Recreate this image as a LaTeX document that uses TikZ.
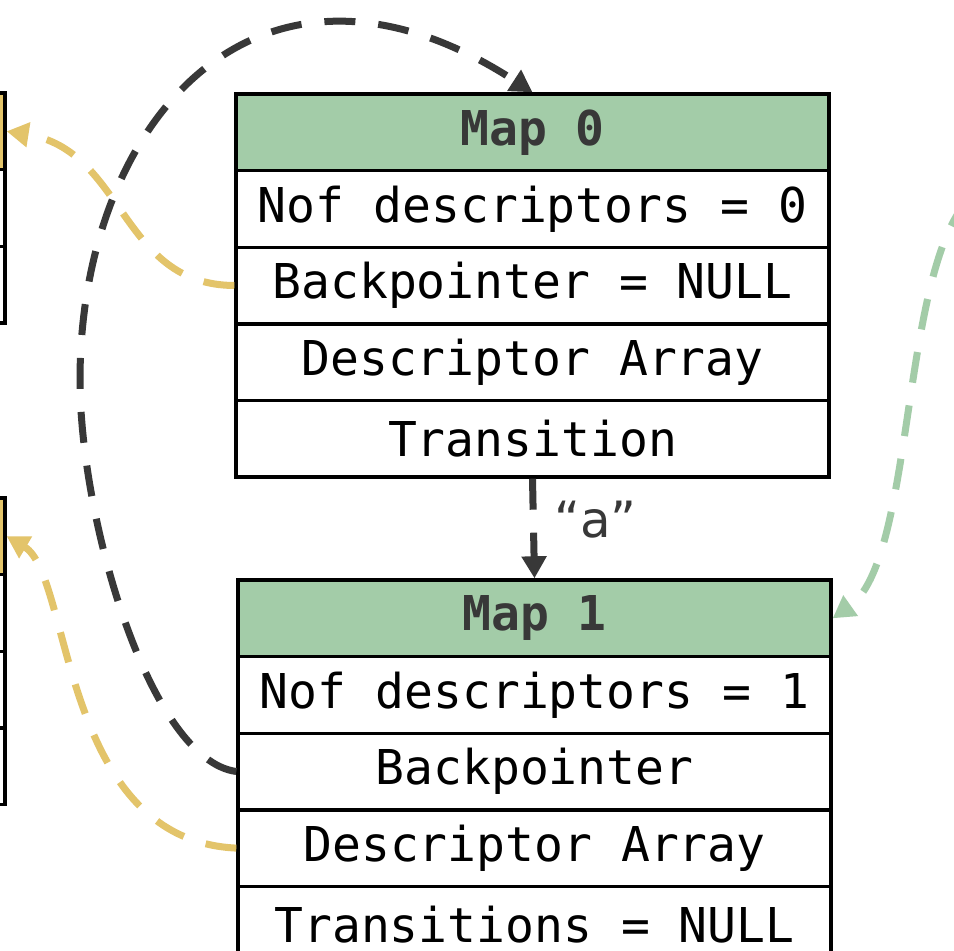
\documentclass[tikz,border=0pt]{standalone}
\usepackage{fontspec}
\newfontfamily\monofont{DejaVu Sans Mono}
\newfontfamily\lblfont{DejaVu Sans}
\usetikzlibrary{arrows.meta}
\definecolor{hdgreen}{HTML}{A3CCA8}
\definecolor{hdyellow}{HTML}{E3C46A}
\definecolor{darkln}{HTML}{383838}
\definecolor{greenln}{HTML}{A3CCA8}
\definecolor{yellowln}{HTML}{E3C46A}
\tikzset{
  cell/.style={draw=black, line width=3.4pt, minimum width=593pt, minimum height=76.6pt,
    inner sep=0pt, fill=white, font=\monofont\fontsize{48}{56}\selectfont, text=black},
  hdrcell/.style={cell, fill=hdgreen, font=\monofont\bfseries\fontsize{48}{56}\selectfont, text=darkln},
  ycell/.style={cell, fill=hdyellow},
  ptr/.style={line width=7pt, dash pattern=on 31pt off 23pt,
    -{Triangle[length=22pt,width=24pt]}},
  lbl/.style={font=\lblfont\fontsize{50}{60}\selectfont, text=darkln}
}
\begin{document}
\begin{tikzpicture}[x=1pt,y=-1pt]
\useasboundingbox (0,0) rectangle (954,951);
\fill[white] (0,0) rectangle (954,951);

% left partial boxes
\node[ycell] (l0h) at (-291.5,131.3) {};
\node[cell]  (l0a) at (-291.5,207.9) {};
\node[cell]  (l0b) at (-291.5,284.5) {};

\node[ycell] (l1h) at (-291.5,536.3) {};
\node[cell]  (l1a) at (-291.5,612.9) {};
\node[cell]  (l1b) at (-291.5,689.5) {};
\node[cell]  (l1c) at (-291.5,766.1) {};

% Map 0
\node[hdrcell] (m0h) at (532.5,132.3) {Map 0};
\node[cell] (m0a) at (532.5,208.9) {Nof descriptors = 0};
\node[cell] (m0b) at (532.5,285.5) {Backpointer = NULL};
\node[cell] (m0c) at (532.5,362.1) {Descriptor Array};
\node[cell] (m0d) at (532.5,438.7) {Transition};

% Map 1
\node[hdrcell] (m1h) at (534.5,618.3) {Map 1};
\node[cell] (m1a) at (534.5,694.9) {Nof descriptors = 1};
\node[cell] (m1b) at (534.5,771.5) {Backpointer};
\node[cell] (m1c) at (534.5,848.1) {Descriptor Array};
\node[cell] (m1d) at (534.5,924.7) {Transitions = NULL};

% transition arrow
\draw[ptr, draw=darkln] (m0d.south) -- node[lbl, right=14pt, yshift=9pt] {“a”} (m1h.north);

% yellow pointers
\draw[ptr, draw=yellowln] (m0b.west) .. controls (120,285) and (125,150) .. (l0h.east);
\draw[ptr, draw=yellowln] (m1c.west) .. controls (60,840) and (72,575) .. (l1h.east);

% dark backpointer
\draw[ptr, draw=darkln] (m1b.west) .. controls (150,760) and (80,520) .. (80,380)
   .. controls (80,120) and (260,-85) .. (m0h.north);

% green pointer
\coordinate (gs) at (968,200);
\draw[ptr, draw=greenln] (gs) .. controls (900,275) and (915,560) .. (m1h.east);
\end{tikzpicture}
\end{document}
